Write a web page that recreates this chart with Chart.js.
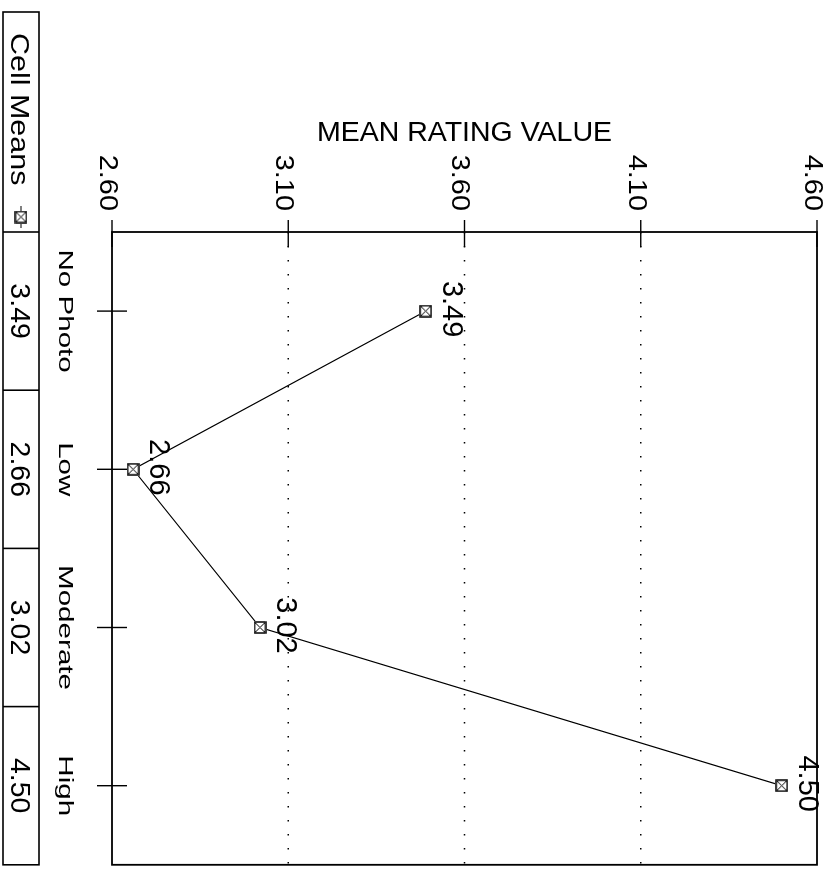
<!DOCTYPE html>
<html>
<head>
<meta charset="utf-8">
<title>Cell Means</title>
<script src="https://cdn.jsdelivr.net/npm/chart.js@4.4.1/dist/chart.umd.min.js"></script>
<style>
  html, body { margin: 0; padding: 0; background: #fff; overflow: hidden; }
  /* the chart is drawn upright, then turned a quarter turn clockwise like the scan */
  #wrap {
    position: absolute; left: 0; top: 0; width: 872px; height: 837px;
    transform-origin: 0 0; transform: translate(837px, 0) rotate(90deg);
  }
</style>
</head>
<body>
<div id="wrap"><canvas id="chart" width="872" height="837"></canvas></div>
<script>
// Data
const categories = ['No Photo', 'Low', 'Moderate', 'High'];
const cellMeans = [3.49, 2.66, 3.02, 4.50];
const valueTicks = [2.60, 3.10, 3.60, 4.10, 4.60];
const seriesName = 'Cell Means';
const axisTitle = 'MEAN RATING VALUE';

const FONT = '"Liberation Sans", Arial, sans-serif';

// the scan stretches some labels along their reading direction
function wideText(ctx, text, x, y, size, sx, align) {
  ctx.save();
  ctx.font = size + 'px ' + FONT;
  ctx.textAlign = align;
  ctx.textBaseline = 'alphabetic';
  ctx.translate(x, y);
  ctx.scale(sx, 1);
  ctx.fillText(text, 0, 0);
  ctx.restore();
}

// square with an X inside, used for the points and the table legend
function makeMarker(size) {
  const c = document.createElement('canvas');
  c.width = size;
  c.height = size;
  const g = c.getContext('2d');
  g.fillStyle = '#fff';
  g.fillRect(0, 0, size, size);
  g.strokeStyle = '#000';
  g.lineWidth = 1.5;
  g.strokeRect(1, 1, size - 2, size - 2);
  g.lineWidth = 1;
  g.beginPath();
  g.moveTo(2, 2); g.lineTo(size - 2, size - 2);
  g.moveTo(size - 2, 2); g.lineTo(2, size - 2);
  g.stroke();
  return c;
}
const marker = makeMarker(13);

// box, dotted grid, ticks that cross the axes, tick labels
const framePlugin = {
  id: 'frame',
  beforeDatasetsDraw(chart) {
    const { ctx, chartArea: a, scales: { x, y } } = chart;
    ctx.save();
    ctx.strokeStyle = '#000';

    ctx.lineWidth = 1.5;
    ctx.setLineDash([1.5, 12.5]);
    y.ticks.forEach(t => {
      if (t.value <= y.min || t.value >= y.max) return;
      const py = y.getPixelForValue(t.value);
      ctx.beginPath();
      ctx.moveTo(a.left, py);
      ctx.lineTo(a.right, py);
      ctx.stroke();
    });
    ctx.setLineDash([]);

    ctx.lineWidth = 1.8;
    ctx.strokeRect(a.left, a.top, a.right - a.left, a.bottom - a.top);

    ctx.lineWidth = 1.4;
    y.ticks.forEach(t => {
      const py = y.getPixelForValue(t.value);
      ctx.beginPath();
      ctx.moveTo(a.left - 12, py);
      ctx.lineTo(a.left + 15, py);
      ctx.stroke();
    });
    x.ticks.forEach((t, i) => {
      const px = x.getPixelForTick(i);
      ctx.beginPath();
      ctx.moveTo(px, a.bottom - 15);
      ctx.lineTo(px, a.bottom + 15);
      ctx.stroke();
    });

    ctx.fillStyle = '#000';
    y.ticks.forEach(t => {
      const py = y.getPixelForValue(t.value);
      wideText(ctx, Number(t.value).toFixed(2), a.left - 21, py + 12, 26.5, 1.09, 'right');
    });
    x.ticks.forEach((t, i) => {
      const px = x.getPixelForTick(i);
      wideText(ctx, x.getLabelForValue(t.value), px, a.bottom + 53, 20, 1.48, 'center');
    });
    ctx.restore();
  }
};

// value printed above each point
const pointLabels = {
  id: 'pointLabels',
  afterDatasetsDraw(chart) {
    const { ctx } = chart;
    const meta = chart.getDatasetMeta(0);
    ctx.save();
    ctx.fillStyle = '#000';
    ctx.font = '29px ' + FONT;
    ctx.textAlign = 'center';
    ctx.textBaseline = 'middle';
    meta.data.forEach((pt, i) => {
      ctx.fillText(cellMeans[i].toFixed(2), pt.x - 2, pt.y - 25);
    });
    ctx.restore();
  }
};

// data table under the category axis
const tablePlugin = {
  id: 'table',
  afterDraw(chart) {
    const { ctx, chartArea: a, scales: { x } } = chart;
    const top = a.bottom + 73;
    const bottom = a.bottom + 109;
    const mid = (top + bottom) / 2;
    const half = (x.getPixelForTick(1) - x.getPixelForTick(0)) / 2;
    const edges = [12];
    categories.forEach((c, i) => edges.push(x.getPixelForTick(i) - half));
    edges.push(x.getPixelForTick(categories.length - 1) + half);

    ctx.save();
    ctx.strokeStyle = '#000';
    ctx.lineWidth = 1.6;
    ctx.strokeRect(edges[0], top, edges[edges.length - 1] - edges[0], bottom - top);
    for (let i = 1; i < edges.length - 1; i++) {
      ctx.beginPath();
      ctx.moveTo(edges[i], top);
      ctx.lineTo(edges[i], bottom);
      ctx.stroke();
    }

    ctx.fillStyle = '#000';
    wideText(ctx, seriesName, edges[0] + 21, mid + 9.5, 26.5, 1.15, 'left');

    const mx = edges[1] - 15;
    ctx.lineWidth = 1;
    ctx.beginPath();
    ctx.moveTo(mx - 11, mid);
    ctx.lineTo(mx + 11, mid);
    ctx.stroke();
    ctx.drawImage(marker, mx - marker.width / 2, mid - marker.height / 2);

    cellMeans.forEach((v, i) => {
      wideText(ctx, v.toFixed(2), (edges[i + 1] + edges[i + 2]) / 2, mid + 10, 28.5, 1, 'center');
    });
    ctx.restore();
  }
};

function noPadding(scale) {
  scale.paddingTop = 0;
  scale.paddingBottom = 0;
  scale.paddingLeft = 0;
  scale.paddingRight = 0;
}

const ctx = document.getElementById('chart').getContext('2d');
new Chart(ctx, {
  type: 'line',
  data: {
    labels: categories,
    datasets: [{
      label: seriesName,
      data: cellMeans,
      borderColor: '#000',
      borderWidth: 1.2,
      tension: 0,
      fill: false,
      pointStyle: marker,
      pointRadius: 6,
      pointHoverRadius: 6
    }]
  },
  options: {
    responsive: false,
    animation: false,
    events: [],
    layout: { padding: { top: 20, right: 2, left: 0, bottom: 0 } },
    plugins: {
      legend: { display: false },
      tooltip: { enabled: false }
    },
    scales: {
      x: {
        type: 'category',
        offset: true,
        grid: { display: false },
        border: { display: false },
        ticks: { display: false, autoSkip: false },
        afterFit(scale) { scale.height = 112; noPadding(scale); }
      },
      y: {
        min: 2.6,
        max: 4.6,
        grid: { display: false },
        border: { display: false },
        afterBuildTicks(scale) {
          scale.ticks = valueTicks.map(v => ({ value: v }));
        },
        ticks: { display: false },
        title: {
          display: true,
          text: axisTitle,
          color: '#000',
          font: { family: FONT, size: 28.5 },
          padding: { top: 116, bottom: 0 }
        },
        afterFit(scale) { scale.width = 232; noPadding(scale); }
      }
    }
  },
  plugins: [framePlugin, pointLabels, tablePlugin]
});
</script>
</body>
</html>
